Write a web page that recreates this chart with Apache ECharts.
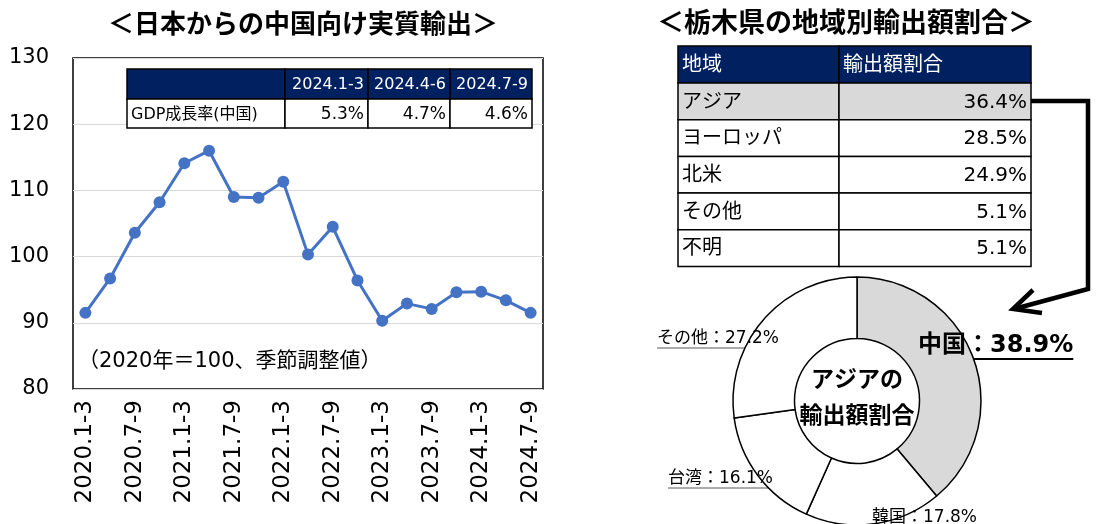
<!DOCTYPE html>
<html>
<head>
<meta charset="utf-8">
<script src="https://cdn.jsdelivr.net/npm/echarts@6/dist/echarts.min.js"></script>
<style>
html,body{margin:0;padding:0;background:#fff;}
#main{width:1096px;height:524px;}
</style>
</head>
<body>
<div id="main"></div>
<script>
// 日本からの中国向け実質輸出（2020年=100、季節調整値）
var quarters = ['2020.1-3','2020.4-6','2020.7-9','2020.10-12',
    '2021.1-3','2021.4-6','2021.7-9','2021.10-12',
    '2022.1-3','2022.4-6','2022.7-9','2022.10-12',
    '2023.1-3','2023.4-6','2023.7-9','2023.10-12',
    '2024.1-3','2024.4-6','2024.7-9'];
var exportIndex = [91.5, 96.7, 103.6, 108.2, 114.1, 116.0, 109.0, 108.9, 111.3, 100.3,
    104.5, 96.4, 90.3, 92.9, 92.1, 94.6, 94.7, 93.4, 91.5];
var yMin = 80, yMax = 130, yStep = 10;

// GDP成長率(中国)
var gdpQuarters = ['2024.1-3','2024.4-6','2024.7-9'];
var gdpRowName = 'GDP成長率(中国)';
var gdpGrowth = [5.3, 4.7, 4.6];

// 栃木県の地域別輸出額割合
var regionHead = ['地域','輸出額割合'];
var regions = ['アジア','ヨーロッパ','北米','その他','不明'];
var regionShare = [36.4, 28.5, 24.9, 5.1, 5.1];

// アジアの輸出額割合
var asiaNames = ['中国','韓国','台湾','その他'];
var asiaShare = [38.9, 17.8, 16.1, 27.2];

var FONT = '"DejaVu Sans", "Noto Sans CJK JP", sans-serif';
var JP = '"Noto Sans CJK JP", sans-serif';
var NAVY = '#002060';

var chart = echarts.init(document.getElementById('main'));

function cell(x, y, w, h, fill, text, align, color, size) {
    var els = [{
        type: 'rect', z: 10,
        shape: {x: x, y: y, width: w, height: h},
        style: {fill: fill, stroke: '#000', lineWidth: 1.5}
    }];
    if (text !== '') {
        els.push({
            type: 'text', z: 11,
            x: align === 'right' ? x + w - 4 : x + 4,
            y: y + h / 2 + 1,
            style: {
                text: text, fill: color,
                font: size + 'px ' + FONT,
                textAlign: align, align: align,
                textVerticalAlign: 'middle', verticalAlign: 'middle'
            }
        });
    }
    return els;
}

var graphics = [];

// 左のGDP表
var gx = [127, 285, 368, 450, 532];
graphics = graphics.concat(cell(gx[0], 69, gx[1] - gx[0], 30, NAVY, '', 'left', '#fff', 16));
gdpQuarters.forEach(function (q, i) {
    graphics = graphics.concat(cell(gx[i + 1], 69, gx[i + 2] - gx[i + 1], 30, NAVY, q, 'right', '#fff', 16));
});
graphics = graphics.concat(cell(gx[0], 99, gx[1] - gx[0], 29, '#fff', gdpRowName, 'left', '#000', 16));
gdpGrowth.forEach(function (v, i) {
    graphics = graphics.concat(cell(gx[i + 1], 99, gx[i + 2] - gx[i + 1], 29, '#fff', v.toFixed(1) + '%', 'right', '#000', 17));
});

// 右の地域別表
var rx = [678, 839, 1031];
var rowH = 36.7;
graphics = graphics.concat(cell(rx[0], 46, rx[1] - rx[0], 37, NAVY, regionHead[0], 'left', '#fff', 20));
graphics = graphics.concat(cell(rx[1], 46, rx[2] - rx[1], 37, NAVY, regionHead[1], 'left', '#fff', 20));
regions.forEach(function (r, i) {
    var y = 83 + i * rowH;
    var bg = i === 0 ? '#d9d9d9' : '#fff';
    graphics = graphics.concat(cell(rx[0], y, rx[1] - rx[0], rowH, bg, r, 'left', '#000', 20));
    graphics = graphics.concat(cell(rx[1], y, rx[2] - rx[1], rowH, bg, regionShare[i].toFixed(1) + '%', 'right', '#000', 20));
});

// 見出し・注記
graphics.push(
    {type: 'text', z: 11, x: 303, y: 23,
        style: {text: '＜日本からの中国向け実質輸出＞', font: 'bold 26px ' + JP, fill: '#000',
            textAlign: 'center', align: 'center', textVerticalAlign: 'middle', verticalAlign: 'middle'}},
    {type: 'text', z: 11, x: 846, y: 22,
        style: {text: '＜栃木県の地域別輸出額割合＞', font: 'bold 27px ' + JP, fill: '#000',
            textAlign: 'center', align: 'center', textVerticalAlign: 'middle', verticalAlign: 'middle'}},
    {type: 'text', z: 11, x: 78, y: 362,
        style: {text: '（2020年＝100、季節調整値）', font: '21px ' + FONT, fill: '#000',
            textAlign: 'left', align: 'left', textVerticalAlign: 'middle', verticalAlign: 'middle'}},
    {type: 'text', z: 11, x: 857, y: 396,
        style: {text: 'アジアの\n輸出額割合', font: 'bold 23px ' + JP, fill: '#000', lineHeight: 36,
            textAlign: 'center', align: 'center', textVerticalAlign: 'middle', verticalAlign: 'middle'}},
    // 矢印
    {type: 'polyline', z: 12,
        shape: {points: [[1031, 101], [1088, 101], [1088, 289], [1014, 309]]},
        style: {stroke: '#000', lineWidth: 4.5, fill: null, lineJoin: 'miter'}},
    {type: 'polyline', z: 12,
        shape: {points: [[1033, 290], [1013, 309], [1042, 313]]},
        style: {stroke: '#000', lineWidth: 4.5, fill: null, lineJoin: 'miter'}}
);

// 円グラフのラベル位置（左端・下端）
var labelSpots = [
    {x: 918, y: 358},
    {x: 872, y: 526},
    {x: 668, y: 487},
    {x: 657, y: 347}
];

option = {
    animation: false,
    grid: {
        left: 73, right: 553, top: 58, bottom: 135,
        show: true, borderColor: '#000', borderWidth: 1.5
    },
    xAxis: {
        type: 'category',
        data: quarters,
        boundaryGap: true,
        axisLine: {show: false},
        axisTick: {show: false},
        axisLabel: {
            interval: 1, rotate: 90, margin: 11,
            fontSize: 23, color: '#000', fontFamily: FONT
        }
    },
    yAxis: {
        type: 'value',
        min: yMin, max: yMax, interval: yStep,
        axisLine: {show: false},
        axisTick: {show: false},
        axisLabel: {fontSize: 21, color: '#000', margin: 24, fontFamily: FONT},
        splitLine: {show: true, lineStyle: {color: '#d9d9d9', width: 1}}
    },
    series: [
        {
            name: '中国向け実質輸出',
            type: 'line',
            data: exportIndex,
            symbol: 'circle',
            symbolSize: 12,
            color: '#4472C4',
            lineStyle: {width: 3, color: '#4472C4'},
            itemStyle: {color: '#4472C4'},
            z: 3
        },
        {
            name: 'アジアの輸出額割合',
            type: 'pie',
            center: [857, 401],
            radius: [62.5, 124],
            startAngle: 90,
            clockwise: true,
            silent: true,
            avoidLabelOverlap: false,
            itemStyle: {borderColor: '#000', borderWidth: 1.5},
            label: {
                show: true,
                position: 'outside',
                fontFamily: FONT,
                fontSize: 17,
                color: '#000',
                formatter: function (p) {
                    return p.name + '：' + p.value.toFixed(1) + '%';
                }
            },
            labelLine: {show: true, length: 5, length2: 5, smooth: false,
                lineStyle: {color: '#595959', width: 1}},
            labelLayout: function (params) {
                var s = labelSpots[params.dataIndex];
                var w = params.labelRect.width;
                return {
                    x: s.x, y: s.y, align: 'left', verticalAlign: 'bottom',
                    labelLinePoints: [[s.x, s.y + 1], [s.x, s.y + 1], [s.x + w, s.y + 1]]
                };
            },
            data: asiaNames.map(function (n, i) {
                var item = {name: n, value: asiaShare[i],
                    itemStyle: {color: i === 0 ? '#d9d9d9' : '#fff'}};
                if (i === 0) {
                    item.label = {fontSize: 24, fontWeight: 'bold'};
                    item.labelLine = {lineStyle: {color: '#000', width: 2}};
                }
                if (i === 1) {
                    item.labelLine = {show: false};
                }
                return item;
            })
        }
    ],
    graphic: {elements: graphics}
};
chart.setOption(option);
</script>
</body>
</html>
